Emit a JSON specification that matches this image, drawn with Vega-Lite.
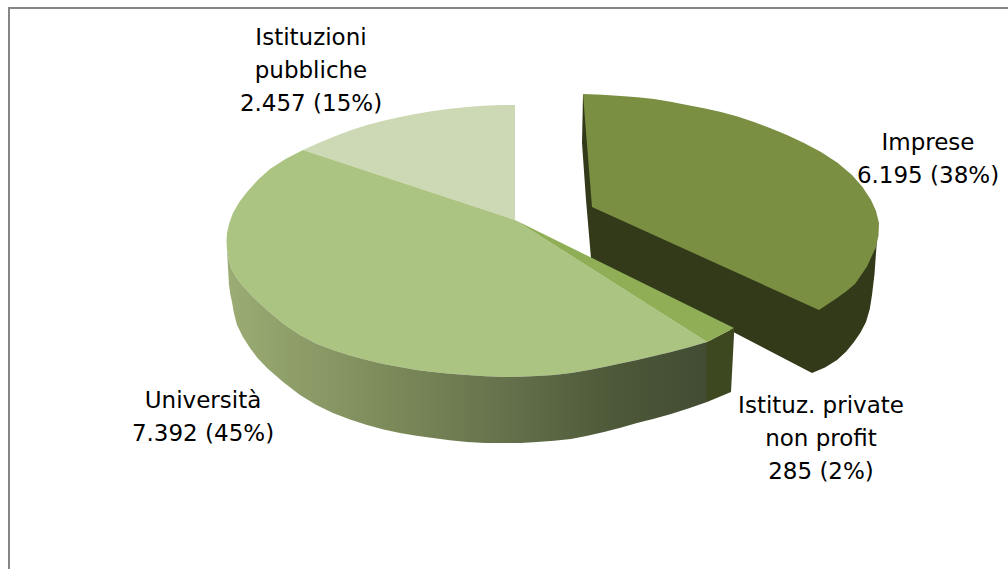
{"$schema":"https://vega.github.io/schema/vega-lite/v6.json","width":1008,"height":569,"padding":0,"autosize":{"type":"none"},"background":"#ffffff","view":{"stroke":null},"config":{"text":{"lineBreak":"\n"}},
"datasets":{"frame":[{"i":0,"x":9,"y":569},{"i":1,"x":9,"y":8},{"i":2,"x":1008,"y":8}],
"labels":[{"slice":"Istituzioni pubbliche","value":2457,"share":15,"label":"Istituzioni\npubbliche\n2.457 (15%)","x":311,"y":45},{"slice":"Imprese","value":6195,"share":38,"label":"Imprese\n6.195 (38%)","x":928,"y":150},{"slice":"Università","value":7392,"share":45,"label":"Università\n7.392 (45%)","x":203,"y":408},{"slice":"Istituz. private non profit","value":285,"share":2,"label":"Istituz. private\nnon profit\n285 (2%)","x":821,"y":413}],
"wall":[{"i":0,"x":227,"y":250},{"i":1,"x":229,"y":285},{"i":1.5,"x":230.3,"y":294.3},{"i":2,"x":232,"y":302},{"i":2.5,"x":233.9,"y":313.1},{"i":3,"x":237,"y":325},{"i":3.5,"x":242.8,"y":336.7},{"i":4,"x":250,"y":348},{"i":4.5,"x":257.3,"y":357.8},{"i":5,"x":267,"y":368},{"i":5.5,"x":282.5,"y":381.6},{"i":6,"x":300,"y":395},{"i":6.5,"x":316.4,"y":405},{"i":7,"x":333,"y":413},{"i":7.5,"x":350,"y":419.6},{"i":8,"x":367,"y":425},{"i":8.5,"x":383.6,"y":429.4},{"i":9,"x":400,"y":433},{"i":9.5,"x":416.4,"y":435.8},{"i":10,"x":433,"y":438},{"i":10.5,"x":449.8,"y":440.2},{"i":11,"x":467,"y":442},{"i":11.5,"x":485,"y":443},{"i":12,"x":504,"y":443},{"i":12.5,"x":520.5,"y":443},{"i":13,"x":537,"y":442},{"i":13.5,"x":554,"y":440.8},{"i":14,"x":571,"y":439},{"i":14.5,"x":587.5,"y":435.8},{"i":15,"x":604,"y":432},{"i":15.5,"x":620.5,"y":427.8},{"i":16,"x":637,"y":423},{"i":16.5,"x":654,"y":418.7},{"i":17,"x":671,"y":414},{"i":17.5,"x":689,"y":408.3},{"i":18,"x":707,"y":402},{"i":19,"x":707,"y":342},{"i":19.5,"x":689,"y":347.2},{"i":20,"x":671,"y":352},{"i":20.5,"x":654,"y":356.1},{"i":21,"x":637,"y":360},{"i":21.5,"x":620.5,"y":363.6},{"i":22,"x":604,"y":367},{"i":22.5,"x":587.5,"y":370.3},{"i":23,"x":571,"y":373},{"i":23.5,"x":554,"y":375},{"i":24,"x":537,"y":376},{"i":24.5,"x":520.5,"y":376.8},{"i":25,"x":504,"y":377},{"i":25.5,"x":485.5,"y":376.3},{"i":26,"x":467,"y":375},{"i":26.5,"x":450,"y":373.8},{"i":27,"x":433,"y":372},{"i":27.5,"x":416.5,"y":370},{"i":28,"x":400,"y":367},{"i":28.5,"x":383.5,"y":364},{"i":29,"x":367,"y":360},{"i":29.5,"x":350,"y":355.5},{"i":30,"x":333,"y":350},{"i":30.5,"x":316,"y":343.5},{"i":31,"x":300,"y":335},{"i":31.5,"x":283,"y":323.5},{"i":32,"x":267,"y":310},{"i":32.5,"x":254,"y":298},{"i":33,"x":242,"y":285},{"i":33.5,"x":236,"y":277},{"i":34,"x":231,"y":268},{"i":34.5,"x":228.7,"y":259.3},{"i":35,"x":227,"y":250}],
"parts":[
{"part":"a","i":0,"x":583,"y":94},{"part":"a","i":1,"x":582,"y":143},{"part":"a","i":2,"x":586,"y":200},{"part":"a","i":3,"x":591,"y":258},{"part":"a","i":4,"x":812,"y":373},{"part":"a","i":4.5,"x":825,"y":367.5},{"part":"a","i":5,"x":837,"y":360},{"part":"a","i":5.5,"x":846,"y":351.7},{"part":"a","i":6,"x":854,"y":342},{"part":"a","i":6.5,"x":860.5,"y":332.5},{"part":"a","i":7,"x":866,"y":322},{"part":"a","i":7.5,"x":869.8,"y":309},{"part":"a","i":8,"x":872,"y":295},{"part":"a","i":8.5,"x":874.5,"y":274},{"part":"a","i":9,"x":876,"y":253},{"part":"a","i":10,"x":877,"y":240},{"part":"a","i":11,"x":800,"y":240},{"part":"a","i":12,"x":583,"y":94},
{"part":"b","i":0,"x":583,"y":94},{"part":"b","i":0.5,"x":602,"y":94.7},{"part":"b","i":1,"x":621,"y":96},{"part":"b","i":1.5,"x":637.5,"y":97.2},{"part":"b","i":2,"x":654,"y":99},{"part":"b","i":2.5,"x":670.5,"y":101.8},{"part":"b","i":3,"x":687,"y":105},{"part":"b","i":3.5,"x":704,"y":108.2},{"part":"b","i":4,"x":721,"y":112},{"part":"b","i":4.5,"x":737.5,"y":116.6},{"part":"b","i":5,"x":754,"y":122},{"part":"b","i":5.5,"x":770.5,"y":128.2},{"part":"b","i":6,"x":787,"y":135},{"part":"b","i":6.5,"x":804,"y":143},{"part":"b","i":7,"x":821,"y":152},{"part":"b","i":7.5,"x":837.5,"y":162.7},{"part":"b","i":8,"x":852,"y":175},{"part":"b","i":8.5,"x":862.5,"y":187},{"part":"b","i":9,"x":871,"y":200},{"part":"b","i":9.5,"x":876,"y":211},{"part":"b","i":10,"x":879,"y":223},{"part":"b","i":10.5,"x":878.5,"y":235.5},{"part":"b","i":11,"x":876,"y":247},{"part":"b","i":11.5,"x":867,"y":266.5},{"part":"b","i":12,"x":855,"y":284},{"part":"b","i":12.5,"x":846,"y":291.5},{"part":"b","i":13,"x":837,"y":298},{"part":"b","i":13.5,"x":828,"y":304},{"part":"b","i":14,"x":819,"y":310},{"part":"b","i":15,"x":592,"y":207},{"part":"b","i":16,"x":583,"y":94},
{"part":"c","i":0,"x":707,"y":342},{"part":"c","i":1,"x":734,"y":328},{"part":"c","i":2,"x":734,"y":335},{"part":"c","i":3,"x":731,"y":392},{"part":"c","i":4,"x":707,"y":402},{"part":"c","i":5,"x":707,"y":342},
{"part":"d","i":0,"x":515,"y":220},{"part":"d","i":1,"x":303,"y":150},{"part":"d","i":1.5,"x":318,"y":143.2},{"part":"d","i":2,"x":333,"y":137},{"part":"d","i":2.5,"x":350,"y":130.6},{"part":"d","i":3,"x":367,"y":125},{"part":"d","i":3.5,"x":383.5,"y":120.7},{"part":"d","i":4,"x":400,"y":117},{"part":"d","i":4.5,"x":416.5,"y":113.8},{"part":"d","i":5,"x":433,"y":111},{"part":"d","i":5.5,"x":450,"y":108.8},{"part":"d","i":6,"x":467,"y":107},{"part":"d","i":6.5,"x":483.5,"y":105.8},{"part":"d","i":7,"x":500,"y":105},{"part":"d","i":8,"x":515,"y":105},{"part":"d","i":9,"x":515,"y":220},
{"part":"e","i":0,"x":515,"y":220},{"part":"e","i":1,"x":303,"y":150},{"part":"e","i":1.5,"x":285.5,"y":159},{"part":"e","i":2,"x":270,"y":169},{"part":"e","i":2.5,"x":257.8,"y":180},{"part":"e","i":3,"x":247,"y":192},{"part":"e","i":3.5,"x":239.3,"y":202},{"part":"e","i":4,"x":233,"y":213},{"part":"e","i":4.5,"x":229.3,"y":223},{"part":"e","i":5,"x":227,"y":233},{"part":"e","i":5.5,"x":226.5,"y":241.5},{"part":"e","i":6,"x":227,"y":250},{"part":"e","i":6.5,"x":228.7,"y":259.3},{"part":"e","i":7,"x":231,"y":268},{"part":"e","i":7.5,"x":236,"y":277},{"part":"e","i":8,"x":242,"y":285},{"part":"e","i":8.5,"x":254,"y":298},{"part":"e","i":9,"x":267,"y":310},{"part":"e","i":9.5,"x":283,"y":323.5},{"part":"e","i":10,"x":300,"y":335},{"part":"e","i":10.5,"x":316,"y":343.5},{"part":"e","i":11,"x":333,"y":350},{"part":"e","i":11.5,"x":350,"y":355.5},{"part":"e","i":12,"x":367,"y":360},{"part":"e","i":12.5,"x":383.5,"y":364},{"part":"e","i":13,"x":400,"y":367},{"part":"e","i":13.5,"x":416.5,"y":370},{"part":"e","i":14,"x":433,"y":372},{"part":"e","i":14.5,"x":450,"y":373.8},{"part":"e","i":15,"x":467,"y":375},{"part":"e","i":15.5,"x":485.5,"y":376.3},{"part":"e","i":16,"x":504,"y":377},{"part":"e","i":16.5,"x":520.5,"y":376.8},{"part":"e","i":17,"x":537,"y":376},{"part":"e","i":17.5,"x":554,"y":375},{"part":"e","i":18,"x":571,"y":373},{"part":"e","i":18.5,"x":587.5,"y":370.3},{"part":"e","i":19,"x":604,"y":367},{"part":"e","i":19.5,"x":620.5,"y":363.6},{"part":"e","i":20,"x":637,"y":360},{"part":"e","i":20.5,"x":654,"y":356.1},{"part":"e","i":21,"x":671,"y":352},{"part":"e","i":21.5,"x":689,"y":347.2},{"part":"e","i":22,"x":707,"y":342},{"part":"e","i":23,"x":515,"y":220},
{"part":"f","i":0,"x":515,"y":220},{"part":"f","i":1,"x":707,"y":342},{"part":"f","i":2,"x":734,"y":328},{"part":"f","i":3,"x":515,"y":220}
]},
"data":{"name":"parts"},
"encoding":{"x":{"field":"x","type":"quantitative","axis":null,"scale":{"domain":[0,1008]}},"y":{"field":"y","type":"quantitative","axis":null,"scale":{"domain":[569,0]}}},
"layer":[
{"data":{"name":"frame"},"mark":{"type":"line","stroke":"#868686","strokeWidth":2,"clip":false},"encoding":{"order":{"field":"i"}}},
{"mark":{"type":"line","strokeWidth":0},"encoding":{"order":{"field":"i"},"detail":{"field":"part"},"fill":{"field":"part","type":"nominal","legend":null,"scale":{"domain":["a","b","c","d","e","f"],"range":["#333a1a","#7a8f42","#3e4820","#cdd8b5","#abc481","#8fae56"]}}}},
{"data":{"name":"wall"},"mark":{"type":"line","strokeWidth":0,"fill":{"gradient":"linear","x1":0,"y1":0,"x2":1,"y2":0,"stops":[{"offset":0,"color":"#9bac74"},{"offset":0.35,"color":"#7b8959"},{"offset":0.6,"color":"#636f4a"},{"offset":0.8,"color":"#4e5939"},{"offset":1,"color":"#424c33"}]}},"encoding":{"order":{"field":"i"}}},
{"data":{"name":"labels"},"mark":{"type":"text","font":"DejaVu Sans","fontSize":23,"lineHeight":33,"align":"center","baseline":"alphabetic","fill":"#000000"},"encoding":{"text":{"field":"label"}}}
]}
